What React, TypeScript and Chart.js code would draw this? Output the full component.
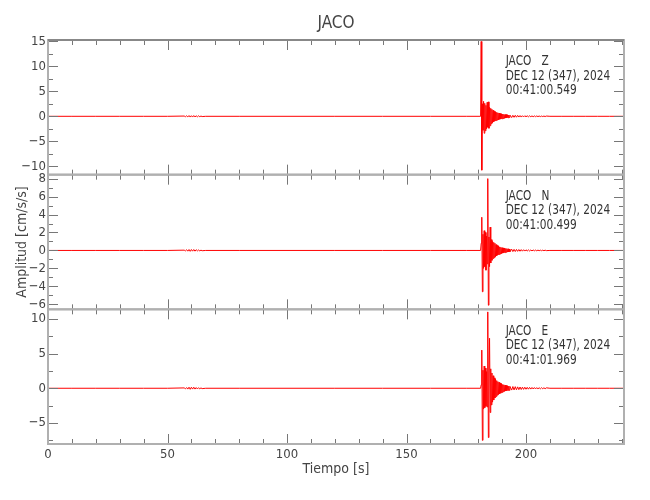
import React, { useEffect, useRef } from 'react';
import { Chart, registerables } from 'chart.js';

Chart.register(...registerables);

const FONT = "'Liberation Sans Narrow', 'DejaVu Sans Condensed', 'Arial Narrow', sans-serif";
const TEXT_COLOR = '#444';
const TRACE_COLOR = '#ff0000';

const chartTitle = 'JACO';
const xTitle = 'Tiempo [s]';
const yTitle = 'Amplitud [cm/s/s]';

const stationLabels = ['JACO   Z', 'JACO   N', 'JACO   E'];
const dateLabels = ['DEC 12 (347), 2024', 'DEC 12 (347), 2024', 'DEC 12 (347), 2024'];
const startLabels = ['00:41:00.549', '00:41:00.499', '00:41:01.969'];

const times = [
  0, 10, 20, 30, 40, 50, 57, 57.5, 58, 58.5, 59, 59.5, 60, 60.5, 61, 61.5, 62, 62.5, 63, 63.5, 64, 64.5, 66, 80, 100, 120, 140, 160, 175, 181,
  181.25, 181.5, 181.75, 182, 182.25, 182.5, 182.75, 183, 183.25, 183.5, 183.75, 184, 184.25, 184.5, 184.75, 185, 185.25,
  185.5, 185.75, 186, 186.25, 186.5, 186.75, 187, 187.25, 187.5, 187.75, 188, 188.25, 188.5, 188.75, 189, 189.25,
  189.5, 189.75, 190, 190.25, 190.5, 190.75, 191, 191.25, 191.5, 191.75, 192, 192.25, 192.5, 192.75, 193, 193.25,
  194, 194.5, 195, 195.5, 196, 196.5, 197, 197.5, 198, 198.5, 199, 199.5, 200, 200.5, 201, 201.5, 202, 202.5, 203, 203.5,
  204, 204.5, 205, 205.5, 206, 206.5, 207, 207.5, 208, 208.5,
  210, 215, 220, 225, 230, 235, 241,
];

const zValues = [
  0, 0, 0, 0, 0, 0, 0.05, -0.08, 0.1, -0.12, 0.15, -0.15, 0.12, -0.15, 0.15, -0.12, 0.1, -0.1, 0.1, -0.08, 0.05, -0.05, 0, 0, 0, 0, 0, 0, 0, 0,
  15, -10.8, 2.5, -2.8, 3.0, -3.4, 2.6, -2.9, 2.2, -2.5, 2.8, -2.2, 2.9, -2.4, 1.8, -1.9, 1.6,
  -1.5, 1.4, -1.3, 1.2, -1.1, 1.0, -0.95, 0.9, -0.85, 0.8, -0.75, 0.7, -0.7, 0.65, -0.6, 0.55,
  -0.55, 0.5, -0.5, 0.45, -0.45, 0.4, -0.4, 0.35, -0.35, 0.35, -0.3, 0.3, -0.3, 0.25, -0.25, 0.25,
  -0.25, 0.2, -0.2, 0.2, -0.18, 0.18, -0.15, 0.15, -0.15, 0.12, -0.12, 0.12, -0.1, 0.1, -0.1, 0.1, -0.08, 0.08, -0.08, 0.08,
  -0.07, 0.07, -0.06, 0.06, -0.06, 0.05, -0.05, 0.05, -0.05, 0.05,
  0, 0, 0, 0, 0, 0, 0,
];

const nValues = [
  0, 0, 0, 0, 0, 0, 0.03, -0.05, 0.08, -0.08, 0.1, -0.1, 0.1, -0.08, 0.1, -0.08, 0.08, -0.05, 0.05, -0.05, 0.03, -0.03, 0, 0, 0, 0, 0, 0, 0, 0,
  0.8, 3.7, -4.6, 1.8, -2.0, 2.2, -1.8, 2.0, -2.2, 1.6, -1.5, 8.0, -6.1, 1.5, -1.8, 2.6, -1.4,
  1.2, -1.1, 1.0, -0.9, 0.9, -0.8, 0.8, -0.7, 0.65, -0.6, 0.55, -0.5, 0.5, -0.45, 0.4, -0.4,
  0.35, -0.35, 0.3, -0.3, 0.28, -0.26, 0.25, -0.24, 0.22, -0.2, 0.2, -0.18, 0.18, -0.16, 0.16, -0.15,
  0.14, -0.13, 0.12, -0.12, 0.11, -0.1, 0.1, -0.09, 0.09, -0.08, 0.08, -0.07, 0.07, -0.06, 0.06, -0.06, 0.05, -0.05, 0.05, -0.04,
  0.04, -0.04, 0.04, -0.03, 0.03, -0.03, 0.03, -0.03, 0.03, -0.02,
  0, 0, 0, 0, 0, 0, 0,
];

const eValues = [
  0, 0, 0, 0, 0, 0, 0.05, -0.08, 0.1, -0.12, 0.15, -0.15, 0.15, -0.12, 0.15, -0.12, 0.1, -0.1, 0.08, -0.08, 0.05, -0.05, 0, 0, 0, 0, 0, 0, 0, 0,
  0.5, 5.5, -7.5, 2.6, -3.0, 3.2, -2.8, 2.9, -2.6, 2.4, -2.7, 11.0, -7.1, 2.2, 7.2, -3.5, 2.8,
  -2.4, 2.2, -2.0, 1.8, -1.7, 1.5, -1.4, 1.3, -1.2, 1.1, -1.0, 0.95, -0.9, 0.85, -0.8, 0.75,
  -0.7, 0.65, -0.6, 0.55, -0.5, 0.5, -0.45, 0.45, -0.4, 0.4, -0.35, 0.35, -0.3, 0.3, -0.3, 0.28,
  -0.26, 0.25, -0.24, 0.23, -0.22, 0.2, -0.2, 0.18, -0.18, 0.16, -0.16, 0.15, -0.14, 0.13, -0.13, 0.12, -0.12, 0.11, -0.1, 0.1,
  -0.1, 0.09, -0.09, 0.08, -0.08, 0.08, -0.07, 0.07, -0.07, 0.06,
  0, 0, 0, 0, 0, 0, 0,
];

const xRange = [0, 241];
const xTicks = [0, 50, 100, 150, 200];
const xMinorTicks = [10, 20, 30, 40, 60, 70, 80, 90, 110, 120, 130, 140, 160, 170, 180, 190, 210, 220, 230, 240];

const zRange = [-11.7, 15.3];
const zTicks = [15, 10, 5, 0, -5, -10];
const zMinorTicks = [12.5, 7.5, 2.5, -2.5, -7.5];

const nRange = [-6.56, 8.44];
const nTicks = [8, 6, 4, 2, 0, -2, -4, -6];
const nMinorTicks = [7, 5, 3, 1, -1, -3, -5];

const eRange = [-8.03, 11.37];
const eTicks = [10, 5, 0, -5];
const eMinorTicks = [7.5, 2.5, -2.5, -7.5];

const panels = [
  { id: 'y1', values: zValues, range: zRange, ticks: zTicks, minor: zMinorTicks, weight: 3 },
  { id: 'y2', values: nValues, range: nRange, ticks: nTicks, minor: nMinorTicks, weight: 2 },
  { id: 'y3', values: eValues, range: eRange, ticks: eTicks, minor: eMinorTicks, weight: 1 },
];

const minusFmt = (v: any) => String(v).replace('-', '\u2212');

const framePlugin = {
  id: 'frame',
  afterDatasetsDraw(chart: any) {
    const ctx = chart.ctx;
    const { left, right } = chart.chartArea;
    const xs = chart.scales.x;
    const line = (x1: number, y1: number, x2: number, y2: number) => {
      ctx.beginPath();
      ctx.moveTo(x1, y1);
      ctx.lineTo(x2, y2);
      ctx.stroke();
    };
    ctx.save();
    panels.forEach((p, i) => {
      const s = chart.scales[p.id];
      const top = s.top;
      const bottom = s.bottom;
      ctx.lineWidth = 1;
      ctx.strokeStyle = '#777';
      const yTick = (v: number, len: number) => {
        const y = Math.round(s.getPixelForValue(v)) + 0.5;
        line(left, y, left + len, y);
        line(right, y, right - len, y);
      };
      const xTick = (v: number, len: number) => {
        const x = Math.round(xs.getPixelForValue(v)) + 0.5;
        line(x, top, x, top + len);
        line(x, bottom, x, bottom - len);
      };
      p.ticks.forEach((v) => yTick(v, 10));
      p.minor.forEach((v) => yTick(v, 5));
      xTicks.forEach((v) => xTick(v, 10));
      xMinorTicks.forEach((v) => xTick(v, 5));

      ctx.strokeStyle = '#b0b0b0';
      ctx.lineWidth = 2;
      ctx.strokeRect(left, top, right - left, bottom - top);
      if (i === 0) {
        ctx.strokeStyle = '#888';
        line(left, top, right, top);
      }

      ctx.fillStyle = '#333';
      ctx.font = `14px ${FONT}`;
      ctx.textAlign = 'left';
      ctx.textBaseline = 'middle';
      const tx = xs.getPixelForValue(191.5);
      const lines = [stationLabels[i], dateLabels[i], startLabels[i]];
      lines.forEach((txt, k) => {
        ctx.save();
        ctx.translate(tx, top + 21.5 + k * 14.5);
        ctx.scale(0.84, 1.05);
        ctx.fillText(txt, 0, 0);
        ctx.restore();
      });
    });
    ctx.restore();
  },
};

export default function App() {
  const canvasRef = useRef<HTMLCanvasElement | null>(null);

  useEffect(() => {
    if (!canvasRef.current) return;
    const scales: any = {
      x: {
        type: 'linear',
        min: xRange[0],
        max: xRange[1],
        afterBuildTicks: (s: any) => {
          s.ticks = xTicks.map((v) => ({ value: v }));
        },
        afterFit: (s: any) => {
          s.height = 56;
        },
        grid: { display: false, drawTicks: false },
        border: { display: false },
        ticks: {
          autoSkip: false,
          maxRotation: 0,
          padding: 3,
          color: TEXT_COLOR,
          font: { family: FONT, size: 13 },
        },
        title: {
          display: true,
          text: xTitle,
          color: TEXT_COLOR,
          font: { family: FONT, size: 14 },
          padding: { top: 0, bottom: 22.6 },
        },
      },
    };
    panels.forEach((p) => {
      scales[p.id] = {
        type: 'linear',
        position: 'left',
        stack: 'traces',
        stackWeight: 1,
        weight: p.weight,
        min: p.range[0],
        max: p.range[1],
        afterBuildTicks: (s: any) => {
          s.ticks = p.ticks.map((v) => ({ value: v }));
        },
        afterFit: (s: any) => {
          s.width = 48;
        },
        grid: { display: false, drawTicks: false },
        border: { display: false },
        ticks: {
          autoSkip: false,
          padding: 2,
          color: TEXT_COLOR,
          font: { family: FONT, size: 13 },
          callback: minusFmt,
        },
        title: {
          display: p.id === 'y2',
          text: yTitle,
          color: TEXT_COLOR,
          font: { family: FONT, size: 14 },
          padding: { top: 13.6, bottom: 0 },
        },
      };
    });

    const chart = new Chart(canvasRef.current, {
      type: 'line',
      data: {
        datasets: panels.map((p) => ({
          label: p.id,
          data: times.map((t, i) => ({ x: t, y: p.values[i] })),
          yAxisID: p.id,
          xAxisID: 'x',
          borderColor: TRACE_COLOR,
          borderWidth: 1,
          pointRadius: 0,
          tension: 0,
          fill: false,
        })),
      },
      options: {
        animation: false,
        responsive: true,
        maintainAspectRatio: false,
        layout: { padding: { left: 0, right: 26, top: 0, bottom: 0 } },
        plugins: {
          legend: { display: false },
          tooltip: { enabled: false },
          title: {
            display: true,
            text: chartTitle,
            fullSize: false,
            color: TEXT_COLOR,
            font: { family: FONT, size: 17, weight: 'normal' },
            padding: { top: 13, bottom: 6.6 },
          },
        },
        scales,
      },
      plugins: [framePlugin],
    } as any);
    return () => chart.destroy();
  }, []);

  return (
    <div style={{ position: 'absolute', left: 0, top: 0, width: 650, height: 500, background: '#fff' }}>
      <canvas ref={canvasRef} />
    </div>
  );
}
